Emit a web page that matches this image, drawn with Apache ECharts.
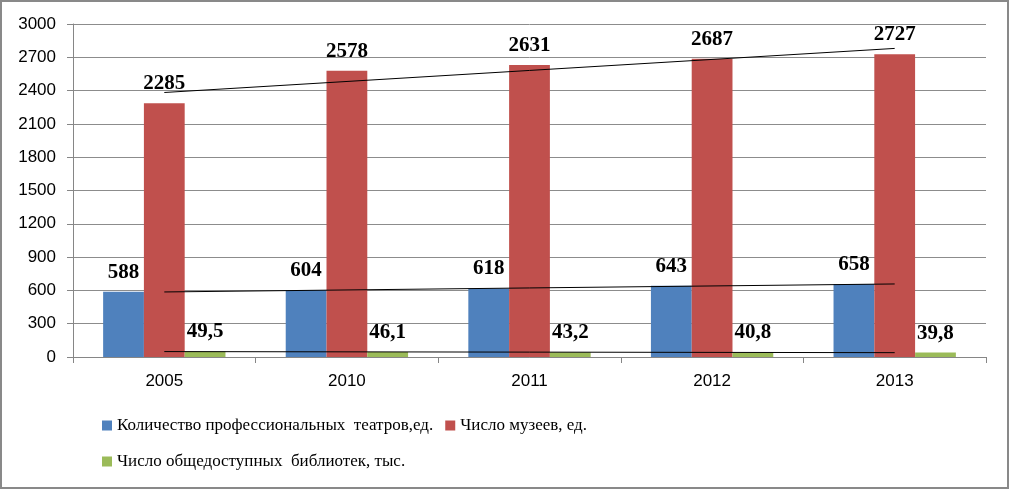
<!DOCTYPE html>
<html>
<head>
<meta charset="utf-8">
<script src="https://cdn.jsdelivr.net/npm/echarts@6/dist/echarts.min.js"></script>
<style>
html,body{margin:0;padding:0;background:#fff;}
#chart{width:1010px;height:490px;}
</style>
</head>
<body>
<div id="chart"></div>
<script>
const categories = ['2005', '2010', '2011', '2012', '2013'];
const theatres = [588, 604, 618, 643, 658];
const museums = [2285, 2578, 2631, 2687, 2727];
const libraries = [49.5, 46.1, 43.2, 40.8, 39.8];
// trend line end values (first and last category)
const theatresTrendEnds = [586, 658];
const museumsTrendEnds = [2383, 2780];
const librariesTrendEnds = [48.8, 39.0];
const yTicks = [0, 300, 600, 900, 1200, 1500, 1800, 2100, 2400, 2700, 3000];
const seriesNames = ['Количество профессиональных  театров,ед.', 'Число музеев, ед.', 'Число общедоступных  библиотек, тыс.'];

function trendData(ends) {
  const d = categories.map(() => null);
  d[0] = ends[0];
  d[d.length - 1] = ends[1];
  return d;
}

const chart = echarts.init(document.getElementById('chart'), null, {renderer: 'canvas'});
const serif = 'Liberation Serif';
const labelStyle = {
  show: true, position: 'top', distance: 9,
  fontFamily: serif,
  fontWeight: 'bold', fontSize: 21, color: '#000',
  formatter: p => String(p.value).replace('.', ',')
};
const legendText = {fontFamily: serif, fontSize: 17, color: '#000'};
const trendStyle = name => ({
  name: name, type: 'line', data: null, connectNulls: true, symbol: 'none',
  lineStyle: {color: '#000', width: 1}, z: 5, silent: true
});

chart.setOption({
  backgroundColor: '#fff',
  animation: false,
  graphic: [{
    type: 'rect', shape: {x: 1, y: 1, width: 1007, height: 487},
    style: {fill: 'none', stroke: '#898989', lineWidth: 2}, z: 100
  }],
  grid: {left: 73, right: 24, top: 24, bottom: 133},
  legend: [{
    data: [seriesNames[0], seriesNames[1]],
    left: 97, top: 412, itemWidth: 10, itemHeight: 10, itemGap: 12,
    icon: 'rect', textStyle: legendText
  }, {
    data: [seriesNames[2]],
    left: 97, top: 448, itemWidth: 10, itemHeight: 10,
    icon: 'rect', textStyle: legendText
  }],
  xAxis: {
    type: 'category', data: categories,
    axisLine: {lineStyle: {color: '#868686'}},
    axisTick: {show: true, length: 6, lineStyle: {color: '#868686'}},
    axisLabel: {color: '#000', fontSize: 17, margin: 16, fontFamily: 'Liberation Sans'}
  },
  yAxis: {
    type: 'value', min: yTicks[0], max: yTicks[yTicks.length - 1], interval: yTicks[1] - yTicks[0],
    axisLine: {show: true, lineStyle: {color: '#868686'}},
    axisTick: {show: true, length: 6, lineStyle: {color: '#868686'}},
    splitLine: {lineStyle: {color: '#8c8c8c'}},
    axisLabel: {color: '#000', fontSize: 17, margin: 17, fontFamily: 'Liberation Sans',
      formatter: v => String(v)}
  },
  series: [
    {name: seriesNames[0], type: 'bar', data: theatres, barGap: 0, barCategoryGap: '33%',
     itemStyle: {color: '#4F81BD'}, label: labelStyle},
    {name: seriesNames[1], type: 'bar', data: museums, barGap: 0, barCategoryGap: '33%',
     itemStyle: {color: '#C0504D'}, label: labelStyle},
    {name: seriesNames[2], type: 'bar', data: libraries, barGap: 0, barCategoryGap: '33%',
     itemStyle: {color: '#9BBB59'}, label: labelStyle},
    Object.assign(trendStyle('t1'), {data: trendData(theatresTrendEnds)}),
    Object.assign(trendStyle('t2'), {data: trendData(museumsTrendEnds)}),
    Object.assign(trendStyle('t3'), {data: trendData(librariesTrendEnds)})
  ]
});
</script>
</body>
</html>
